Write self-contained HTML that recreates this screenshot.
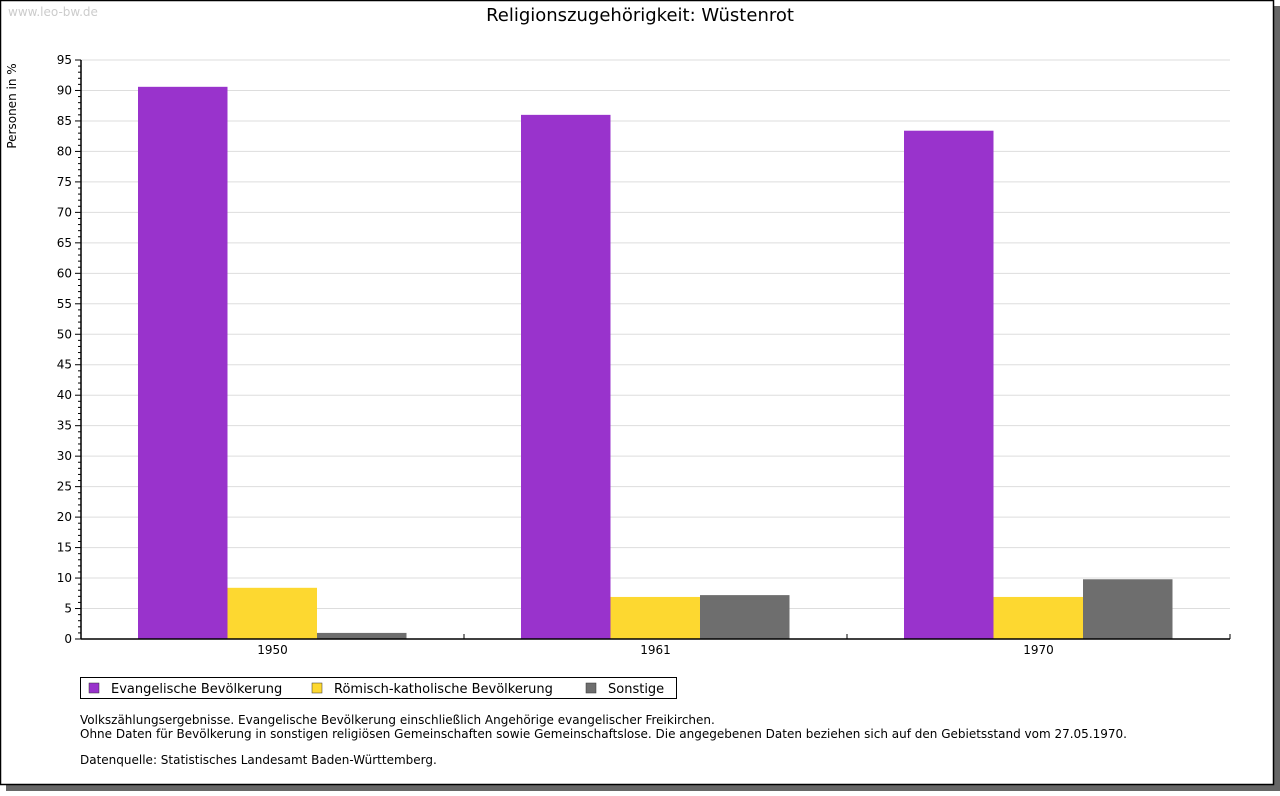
<!DOCTYPE html>
<html><head><meta charset="utf-8"><style>
body{margin:0;background:#fff;width:1280px;height:791px;overflow:hidden;font-family:"Liberation Sans","DejaVu Sans",sans-serif}
</style></head><body>
<svg width="1280" height="791" xmlns="http://www.w3.org/2000/svg" font-family="DejaVu Sans, Liberation Sans, sans-serif">
<rect x="6" y="6" width="1274" height="785" fill="#666"/>
<rect x="0.5" y="0.5" width="1273" height="784" fill="#fff" stroke="#000" stroke-width="1.5"/>
<text x="8" y="16" font-size="12" fill="#ccc">www.leo-bw.de</text>
<text x="640" y="21" font-size="18" text-anchor="middle">Religionszugehörigkeit: Wüstenrot</text>
<text transform="translate(16,106) rotate(-90)" font-size="12" text-anchor="middle">Personen in %</text>
<g id="grid"></g><g id="bars"></g><g id="axes"></g>
<g>
<rect x="80.5" y="677.5" width="596" height="21" fill="#fff" stroke="#000"/>
<rect x="89" y="683" width="10" height="10" fill="#9933cc" stroke="#333" stroke-width="0.5"/>
<text x="111" y="693" font-size="13">Evangelische Bevölkerung</text>
<rect x="312" y="683" width="10" height="10" fill="#fdd830" stroke="#333" stroke-width="0.5"/>
<text x="334" y="693" font-size="13">Römisch-katholische Bevölkerung</text>
<rect x="586" y="683" width="10" height="10" fill="#6e6e6e" stroke="#333" stroke-width="0.5"/>
<text x="608" y="693" font-size="13">Sonstige</text>
</g>
<g font-size="12">
<text x="80" y="724">Volkszählungsergebnisse. Evangelische Bevölkerung einschließlich Angehörige evangelischer Freikirchen.</text>
<text x="80" y="738">Ohne Daten für Bevölkerung in sonstigen religiösen Gemeinschaften sowie Gemeinschaftslose. Die angegebenen Daten beziehen sich auf den Gebietsstand vom 27.05.1970.</text>
<text x="80" y="764">Datenquelle: Statistisches Landesamt Baden-Württemberg.</text>
</g>
</svg>
<script>
const categories = ["1950","1961","1970"];
const evangelisch = [90.6, 86.0, 83.4];
const katholisch = [8.4, 6.9, 6.9];
const sonstige = [1.0, 7.2, 9.8];
const yTicks = [0,5,10,15,20,25,30,35,40,45,50,55,60,65,70,75,80,85,90,95];

const NS="http://www.w3.org/2000/svg";
const x0=81,x1=1230,y0=639,yTop=60,yMax=95;
const y=v=>y0-(v/yMax)*(y0-yTop);
const gw=(x1-x0)/categories.length;
function mk(tag,attrs,parent){const e=document.createElementNS(NS,tag);for(const k in attrs)e.setAttribute(k,attrs[k]);document.getElementById(parent).appendChild(e);return e;}
yTicks.forEach(t=>{
  if(t>0){const g=mk('line',{x1:x0,x2:x1,y1:y(t),y2:y(t),stroke:'#ddd'},'grid');
  
  }
  const tk=mk('line',{x1:x0-6,x2:x0,y1:y(t),y2:y(t),stroke:'#000'},'axes');
  
  
  const lb=mk('text',{x:x0-9,y:y(t)+4,'font-size':12,'text-anchor':'end'},'axes');lb.textContent=t;
  
  
});
for(let v=0;v<yMax;v++){if(v%5)mk('line',{x1:x0-3,x2:x0,y1:y(v),y2:y(v),stroke:'#000'},'axes');}
const series=[[evangelisch,'#9933cc','evangelisch'],[katholisch,'#fdd830','katholisch'],[sonstige,'#6e6e6e','sonstige']];
const bw=89.5, off=57;
categories.forEach((c,i)=>{
  const gx=x0+i*gw;
  series.forEach((s,j)=>{
    const v=s[0][i];
    const r=mk('rect',{x:gx+off+j*bw,y:y(v),width:bw,height:y0-y(v),fill:s[1]},'bars');
    
    
  });
  const lb=mk('text',{x:gx+gw/2,y:y0+15,'font-size':12,'text-anchor':'middle'},'axes');lb.textContent=c;
  
  
  const tk=mk('line',{x1:gx+gw,x2:gx+gw,y1:y0-5,y2:y0,stroke:'#000'},'axes');
  
  
});
const ya=mk('line',{x1:x0,x2:x0,y1:yTop,y2:y0+0.5,stroke:'#000','stroke-width':1.5},'axes');


const xa=mk('line',{x1:x0,x2:x1,y1:y0,y2:y0,stroke:'#000','stroke-width':1.5},'axes');


</script>
</body></html>
